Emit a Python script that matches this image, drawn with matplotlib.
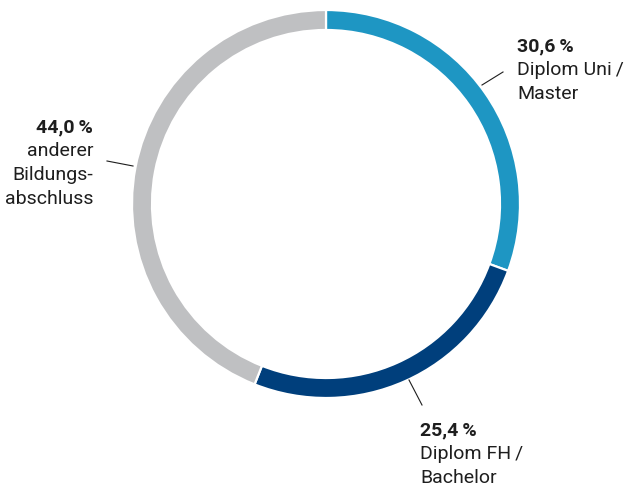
import matplotlib
matplotlib.use("Agg")
import matplotlib.pyplot as plt

# Shares of degree types (percent), drawn clockwise from the top
categories = ["Diplom Uni\u2009/\nMaster", "Diplom FH\u2009/\nBachelor", "anderer\nBildungs-\nabschluss"]
values = [30.6, 25.4, 44.0]
value_labels = ["30,6\u2009%", "25,4\u2009%", "44,0\u2009%"]
colors = ["#1e96c3", "#003f7c", "#bfc0c2"]

plt.rcParams["font.family"] = ["Roboto", "DejaVu Sans"]
TEXT = "#1e1e1e"

W, H = 627, 487
fig = plt.figure(figsize=(W / 100, H / 100), dpi=100)
ax = fig.add_axes([0, 0, 1, 1])
ax.axis("off")

cx, cy, R = 326, H - 204, 194
ax.pie(values, colors=colors, startangle=90, counterclock=False,
       center=(cx, cy), radius=R,
       wedgeprops=dict(width=20, edgecolor="white", linewidth=1.6))
ax.set_xlim(0, W)
ax.set_ylim(0, H)
ax.set_aspect("equal")

# label anchor (x, first baseline in pixels from top), alignment, leader line
layout = [
    (517, 51, "left", ((482, 85), (503, 72))),
    (420, 435, "left", ((409, 380), (422, 405))),
    (93, 132, "right", ((107, 161), (133, 166))),
]
step = 24
fs = 14
for (x, y0, ha, line), val, cat in zip(layout, value_labels, categories):
    ax.text(x, H - y0, val, ha=ha, va="baseline", fontsize=fs,
            fontweight="bold", color=TEXT)
    for i, part in enumerate(cat.split("\n"), start=1):
        ax.text(x, H - (y0 + i * step), part, ha=ha, va="baseline",
                fontsize=fs, color=TEXT)
    (x1, y1), (x2, y2) = line
    ax.plot([x1, x2], [H - y1, H - y2], color=TEXT, linewidth=0.8)

fig.savefig("out.png", dpi=100)
